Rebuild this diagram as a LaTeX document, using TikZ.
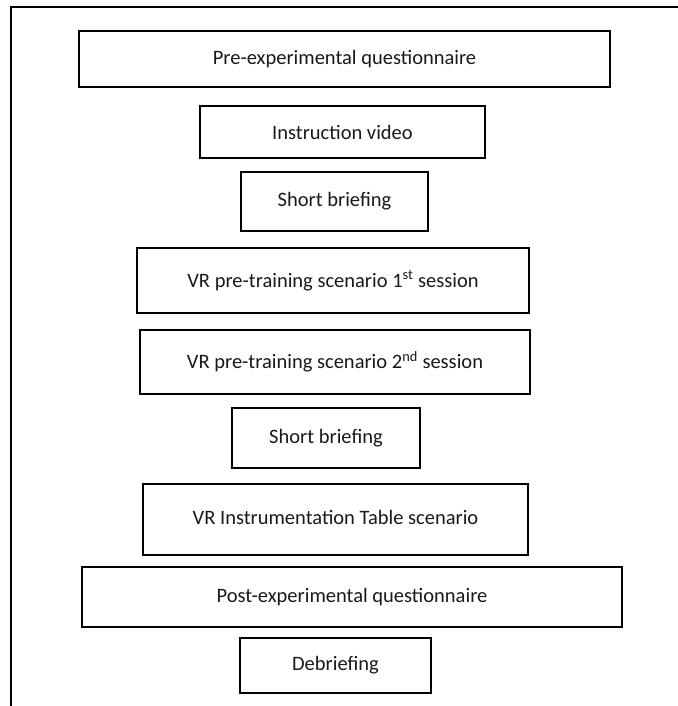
\documentclass[tikz,border=0pt]{standalone}
\usepackage{fontspec}
\setmainfont{Carlito}
\begin{document}
\begin{tikzpicture}[x=1pt,y=-1pt,
  stepbox/.style={draw=black, line width=1.9pt, inner sep=0pt, font=\fontsize{20.5}{23}\selectfont, text=black!90},
  frameline/.style={line width=2.8pt, line cap=rect}]
\useasboundingbox (0,0) rectangle (677,706);
\draw[frameline] (677,7) -- (11,7) -- (11,708);
\node[stepbox, minimum width=531pt, minimum height=56pt] (b1) at (344.5,59) {Pre-experimental questionnaire};
\node[stepbox, minimum width=285pt, minimum height=52pt] (b2) at (342.5,132) {Instruction video};
\node[stepbox, minimum width=187pt, minimum height=59pt] (b3) at (334.5,201.5) {Short briefing};
\node[stepbox, minimum width=392pt, minimum height=65pt] (b4) at (333,280.5) {VR pre-training scenario 1\textsuperscript{st} session};
\node[stepbox, minimum width=390pt, minimum height=64pt] (b5) at (335,362) {\raisebox{3pt}{VR pre-training scenario 2\textsuperscript{nd} session}};
\node[stepbox, minimum width=188pt, minimum height=60pt] (b6) at (326,438) {Short briefing};
\node[stepbox, minimum width=385pt, minimum height=71pt] (b7) at (335.5,519.5) {\raisebox{5pt}{VR Instrumentation Table scenario}};
\node[stepbox, minimum width=540pt, minimum height=60pt] (b8) at (352,597) {Post-experimental questionnaire};
\node[stepbox, minimum width=191pt, minimum height=55pt] (b9) at (335.5,665.5) {Debriefing};
\end{tikzpicture}
\end{document}
